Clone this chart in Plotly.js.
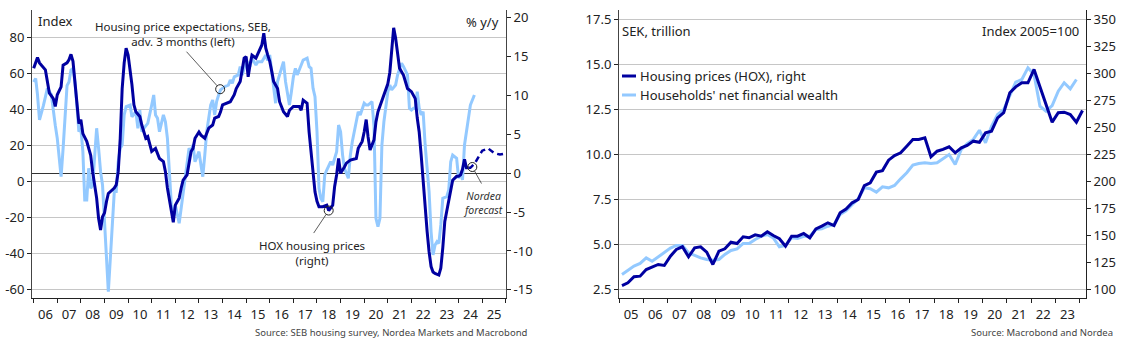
<!DOCTYPE html>
<html><head><meta charset="utf-8">
<script src="https://cdn.plot.ly/plotly-3.0.1.min.js"></script>
<style>html,body{margin:0;padding:0;background:#fff;}#chart{width:1126px;height:349px;}</style>
</head><body><div id="chart"></div>
<script>
// ---------- Left chart: SEB housing price expectations (left, index) ----------
const sebDates = ["2006-01","2006-02","2006-03","2006-04","2006-06","2006-07","2006-08","2006-10","2006-11","2006-12",
"2007-01","2007-02","2007-03","2007-04","2007-05","2007-06","2007-07","2007-08","2007-09","2007-10","2007-11","2007-12",
"2008-01","2008-02","2008-03","2008-04","2008-05","2008-06","2008-07","2008-08","2008-09","2008-10","2008-11","2008-12",
"2009-01","2009-02","2009-03","2009-04","2009-05","2009-06","2009-07","2009-08","2009-09","2009-10","2009-11","2009-12",
"2010-02","2010-03","2010-05","2010-06","2010-07","2010-08","2010-09","2010-11",
"2011-01","2011-02","2011-03","2011-04","2011-05","2011-07","2011-08","2011-09","2011-10","2011-11","2011-12",
"2012-01","2012-03","2012-04","2012-06","2012-07","2012-08","2012-09","2012-10","2012-11",
"2013-01","2013-02","2013-03","2013-04","2013-05","2013-07","2013-08","2013-09","2013-10","2013-11","2013-12",
"2014-02","2014-04","2014-05","2014-06","2014-07","2014-09","2014-10","2014-11","2014-12",
"2015-01","2015-03","2015-04","2015-06","2015-07","2015-09","2015-11","2015-12",
"2016-01","2016-02","2016-03","2016-04","2016-05","2016-07","2016-08","2016-09","2016-11","2016-12",
"2017-01","2017-02","2017-03","2017-04","2017-06","2017-08","2017-09","2017-10","2017-11","2017-12",
"2018-01","2018-02","2018-03","2018-04","2018-05","2018-06","2018-08","2018-09","2018-11","2018-12",
"2019-01","2019-02","2019-03","2019-05","2019-06","2019-07","2019-09","2019-10","2019-11",
"2020-01","2020-02","2020-03","2020-05","2020-06","2020-07","2020-08","2020-09","2020-10","2020-11","2020-12",
"2021-01","2021-02","2021-03","2021-05","2021-06","2021-08","2021-09","2021-11","2021-12",
"2022-01","2022-02","2022-03","2022-04","2022-05","2022-06","2022-07","2022-08","2022-10","2022-11","2022-12",
"2023-01","2023-02","2023-03","2023-04","2023-05","2023-07","2023-08","2023-09","2023-10","2023-12",
"2024-01","2024-02","2024-03","2024-04","2024-05","2024-06","2024-07","2024-09"];
const sebIndex = [55,57,48,34,42,46,51.5,48,38.5,31,
23.7,12.6,2.4,18,37,53,55,61.7,62.6,55,42,27.4,
29.3,16.3,-10.6,-10.6,7.1,-4.1,-2.2,16.3,29.3,18.2,5.2,-2.2,
-20.7,-42.9,-61.5,-42.9,-20.7,-5.9,-5.9,10.7,18.2,20,36.7,41.3,
42.2,35.7,38.5,29.3,39.4,27.4,29.3,32,
42.2,47.8,36.7,34.8,27.4,36.7,32.9,23.7,5.2,-13.3,-20.7,
-13.3,-23.5,-15.2,1.5,10.7,18.2,16.3,20,10.7,
16.3,8.9,2.4,14.4,27.4,42.2,45,36.7,44.1,47.8,50.6,
52.4,53.3,56.1,54.3,57.9,58.9,63.5,58.9,62.6,
67.2,63.5,68.2,64.4,66.3,66.3,70,67,
70,60.7,51.5,43.2,55.2,63.5,66.3,55.2,42.2,49.6,
57.9,62.6,58.9,61.7,67.2,68.2,63.5,62.6,51.5,46.8,
27.4,-4.1,-9.6,-11.5,3.3,6.1,10.7,8.9,16.3,31.1,
27.4,14.4,7.1,1.5,14.4,21.8,32.9,38.5,36.7,
43.2,42.2,42.2,44.1,30,-20.7,-25.4,-20.7,20,32.9,42.2,
49.6,53.3,50.6,53.3,58.9,65.4,63.5,58.9,40.4,
39.4,40.4,40.4,49.6,40.4,36.7,38.5,20,-5.9,-28.2,-41.1,
-35.6,-33.7,-34.6,-24.4,-9.6,-8.7,-5,10.7,14.4,12.6,
1.5,4.3,0.6,20,27.4,36.7,42.2,47.8];

// ---------- Left chart: HOX housing prices, % y/y (right) ----------
const hoxDates = ["2006-01","2006-03","2006-04","2006-07","2006-08","2006-09","2006-11","2006-12",
"2007-01","2007-03","2007-04","2007-06","2007-07","2007-08","2007-09","2007-11","2007-12",
"2008-01","2008-02","2008-04","2008-06","2008-07","2008-09","2008-10","2008-11","2008-12",
"2009-01","2009-02","2009-03","2009-06","2009-07","2009-08","2009-09","2009-10","2009-11","2009-12",
"2010-01","2010-03","2010-04","2010-05","2010-07","2010-08","2010-10","2010-11",
"2011-01","2011-03","2011-05","2011-07","2011-08","2011-09","2011-10","2011-11","2011-12",
"2012-01","2012-03","2012-04","2012-05","2012-07","2012-08","2012-09","2012-10","2012-11",
"2013-01","2013-02","2013-04","2013-06","2013-08","2013-09","2013-11","2013-12",
"2014-01","2014-03","2014-05","2014-07","2014-08","2014-10","2014-11","2014-12",
"2015-01","2015-02","2015-03","2015-04","2015-06","2015-07","2015-08","2015-09","2015-10","2015-11","2015-12",
"2016-01","2016-02","2016-03","2016-05","2016-06","2016-08","2016-10","2016-11",
"2017-01","2017-04","2017-05","2017-06","2017-08","2017-09","2017-10","2017-11","2017-12",
"2018-01","2018-02","2018-04","2018-06","2018-07","2018-09","2018-10","2018-11","2018-12",
"2019-01","2019-03","2019-04","2019-06","2019-09","2019-10","2019-12",
"2020-01","2020-02","2020-03","2020-04","2020-06","2020-07","2020-08","2020-09","2020-11","2020-12",
"2021-01","2021-02","2021-03","2021-04","2021-05","2021-06","2021-07","2021-09","2021-11",
"2022-01","2022-03","2022-04","2022-05","2022-06","2022-07","2022-08","2022-09","2022-10","2022-11","2022-12",
"2023-01","2023-03","2023-04","2023-05","2023-06","2023-07","2023-09","2023-10","2023-12",
"2024-01","2024-02","2024-03","2024-04","2024-05","2024-06"];
const hoxYoY = [13.5,14.9,14.2,13.3,11.8,10.3,9.6,8.6,
10.1,11.1,13.9,14.2,14.6,15.3,14.4,9.6,6.4,
6.9,5.1,4.1,2.3,0.2,-3.2,-5.8,-7.3,-5.6,
-5.1,-3.6,-2.6,-1.9,-1.5,0.2,4.5,10.9,14.2,16.1,
15.2,11.4,8.8,7.9,7.3,6.2,4.5,4.7,
2.8,3.2,1.9,1.5,0.2,-1.9,-3.2,-4.9,-6.3,
-4.1,-3.2,-1.9,-0.9,-0.2,1.1,2.8,3.2,4.5,
5.3,4.9,4.5,5.8,6.2,7.1,7.3,7.9,
8.8,9.0,9.2,10.1,10.9,11.8,13.1,14.8,
15.0,12.4,13.9,15.2,14.8,15.4,15.9,16.5,18.0,16.1,15.2,
14.4,13.1,11.8,10.9,9.2,7.9,7.3,8.1,
8.6,8.6,8.1,9.4,9.0,5.3,2.8,-0.6,-2.4,
-3.6,-4.3,-4.3,-4.1,-4.8,-4.1,-1.7,-0.2,1.9,
0.0,0.8,1.3,1.7,1.9,3.2,4.1,
5.3,6.9,4.7,3.0,4.3,6.6,7.9,8.6,10.1,10.7,
11.5,13.0,15.5,18.7,17.4,15.0,13.5,12.6,10.9,
10.5,9.6,7.1,5.3,2.3,-1.1,-4.9,-7.5,-10.1,-12.0,-12.7,
-12.9,-13.1,-12.2,-9.6,-6.2,-4.9,-2.4,-0.9,-0.4,
-0.4,-0.2,0.5,1.8,0.7,0.7];

// Nordea forecast, % y/y
const fcDates = ["2024-06","2024-07","2024-09","2024-11","2025-01","2025-04","2025-07","2025-10","2025-12"];
const fcYoY = [0.7,0.7,1.2,2.1,2.9,3.2,2.6,2.4,2.5];

// ---------- Right chart (quarterly, 2005Q1 onwards) ----------
const nfwTrillion = [3.31,3.54,3.77,3.92, 4.23,4.04,4.29,4.54, 4.77,4.92,4.92,4.51, 4.36,4.23,4.14,4.10,
4.14,4.42,4.64,4.73, 5.03,5.03,5.25,5.43, 5.53,5.34,4.84,4.92, 5.34,5.31,5.43,5.43,
5.81,5.84,5.99,6.08, 6.64,6.85,7.19,7.51, 8.12,8.07,7.88,8.18, 8.12,8.25,8.62,8.96,
9.38,9.47,9.51,9.47, 9.51,9.73,9.97,9.42, 10.25,10.58,10.81,11.32, 10.62,11.54,12.19,12.47,
13.21,13.99,14.14,14.79, 14.42,12.66,12.38,12.69, 13.49,13.96,13.62,14.14];
const hoxIndex = [103.2,105.7,111.3,111.9, 118,120.5,122.7,121.8, 130.4,136.6,139.1,129.8, 138.1,139.1,134.1,122.7,
135,137.2,143.3,142.1, 148.3,147.4,150.2,148.9, 153,149.5,146.5,139.6, 148.9,148.9,151.4,147.4,
155.7,158.2,161.3,158.8, 170.6,174,179.8,182.9, 195.8,198.3,208.2,209.6, 219.3,223.6,226.1,232.2,
238.4,238.4,240,222.4, 227.6,229.2,231.7,226.1, 230.7,232.9,236.9,235.9, 244.6,246.1,258.5,263.2,
281.7,287.2,290.9,290.9, 303.3,287.2,270.8,254.5, 263.2,263.7,261.6,254.5, 265.3];

// tick values
const leftTicks = [-60,-40,-20,0,20,40,60,80];
const rightTicksL = [-15,-10,-5,0,5,10,15,20];
const sekTicks = [2.5,5,7.5,10,12.5,15,17.5];
const idxTicks = [100,125,150,175,200,225,250,275,300,325,350];

// quarterly dates (mid-quarter) for the right chart
function quarterDates(n){const out=[];const mm=['02','05','08','11'];for(let i=0;i<n;i++){out.push((2005+Math.floor(i/4))+'-'+mm[i%4]+'-15');}return out;}
const qNfw = quarterDates(nfwTrillion.length);
const qHox = quarterDates(hoxIndex.length);

const DARK = '#0000A0', LIGHT = '#93C9FF', GRID = '#c6c6c6', TXT = '#222';
const FONT = '"Noto Sans", "Open Sans", sans-serif';
const W = 1126, H = 349;
const PX = v => v / W, PY = v => 1 - v / H;

const traces = [
  {x: sebDates, y: sebIndex, xaxis:'x', yaxis:'y', type:'scatter', mode:'lines', line:{color:LIGHT, width:3}, name:'Housing price expectations, SEB'},
  {x: hoxDates, y: hoxYoY, xaxis:'x', yaxis:'y2', type:'scatter', mode:'lines', line:{color:DARK, width:3}, name:'HOX housing prices'},
  {x: fcDates, y: fcYoY, xaxis:'x', yaxis:'y2', type:'scatter', mode:'lines', line:{color:DARK, width:2.5, dash:'6px,4px'}, name:'Nordea forecast'},
  {x: qNfw, y: nfwTrillion, xaxis:'x2', yaxis:'y3', type:'scatter', mode:'lines', line:{color:LIGHT, width:3}, name:"Households' net financial wealth"},
  {x: qHox, y: hoxIndex, xaxis:'x2', yaxis:'y4', type:'scatter', mode:'lines', line:{color:DARK, width:3}, name:'Housing prices (HOX), right'}
];

const commonX = {type:'date', dtick:'M12', tickformat:'%y', ticklabelmode:'period', ticks:'outside', ticklen:4,
  tickcolor:TXT, showline:true, linecolor:TXT, linewidth:1, showgrid:false, zeroline:false, tickfont:{size:13, color:TXT}};
const yDom = [1 - 298/H, 1 - 10/H];

const layout = {
  width:W, height:H, margin:{l:0, r:0, t:0, b:0}, paper_bgcolor:'#fff', plot_bgcolor:'rgba(0,0,0,0)',
  showlegend:false, font:{family:FONT, size:13, color:TXT},
  xaxis: Object.assign({}, commonX, {domain:[32/W, 506/W], range:['2005-12-06','2026-01-03'], tick0:'2006-01-01', anchor:'y'}),
  yaxis: {domain:yDom, anchor:'x', range:[-65,95], tickvals:leftTicks, ticktext:leftTicks.map(String), ticks:'outside', ticklen:4,
    tickcolor:TXT, showline:true, linecolor:'#444', linewidth:1, showgrid:true, gridcolor:GRID, gridwidth:1, zeroline:false, tickfont:{size:13, color:TXT}},
  yaxis2: {overlaying:'y', side:'right', anchor:'x', range:[-16.05,21.0], tickvals:rightTicksL, ticktext:rightTicksL.map(String), ticks:'outside', ticklen:4,
    tickcolor:TXT, showline:true, linecolor:'#444', linewidth:1, showgrid:false, zeroline:true, zerolinecolor:'#333', zerolinewidth:1, tickfont:{size:13, color:TXT}},
  xaxis2: Object.assign({}, commonX, {domain:[619/W, 1086/W], range:['2005-01-01','2024-04-08'], tick0:'2005-01-01', anchor:'y3'}),
  yaxis3: {domain:yDom, anchor:'x2', range:[2.0,18.0], tickvals:sekTicks, ticktext:sekTicks.map(v=>v.toFixed(1)), ticks:'outside', ticklen:4,
    tickcolor:TXT, showline:true, linecolor:'#444', linewidth:1, showgrid:true, gridcolor:GRID, gridwidth:1, zeroline:false, tickfont:{size:13, color:TXT}},
  yaxis4: {overlaying:'y3', side:'right', anchor:'x2', range:[91.67,358.33], tickvals:idxTicks, ticktext:idxTicks.map(String), ticks:'outside', ticklen:4,
    tickcolor:TXT, showline:true, linecolor:TXT, linewidth:1, showgrid:false, zeroline:false, tickfont:{size:13, color:TXT}},
  shapes: [
    {type:'circle', xref:'x', yref:'y', xsizemode:'pixel', ysizemode:'pixel', xanchor:'2013-11-25', yanchor:51, x0:-4.5, x1:4.5, y0:-4.5, y1:4.5, line:{color:'#222', width:1}},
    {type:'circle', xref:'x', yref:'y2', xsizemode:'pixel', ysizemode:'pixel', xanchor:'2018-07-01', yanchor:-4.8, x0:-4.5, x1:4.5, y0:-4.5, y1:4.5, line:{color:'#222', width:1}},
    {type:'circle', xref:'x', yref:'y2', xsizemode:'pixel', ysizemode:'pixel', xanchor:'2024-07-31', yanchor:0.8, x0:-4.5, x1:4.5, y0:-4.5, y1:4.5, line:{color:'#222', width:1}},
    // legend keys (right chart)
    {type:'line', xref:'paper', yref:'paper', x0:PX(622), x1:PX(636), y0:PY(76), y1:PY(76), line:{color:DARK, width:3}},
    {type:'line', xref:'paper', yref:'paper', x0:PX(622), x1:PX(636), y0:PY(95), y1:PY(95), line:{color:LIGHT, width:3}}
  ],
  annotations: [
    {xref:'paper', yref:'paper', x:PX(36), y:PY(21), xanchor:'left', yanchor:'middle', text:'Index', showarrow:false, font:{size:13}},
    {xref:'paper', yref:'paper', x:PX(501), y:PY(22), xanchor:'right', yanchor:'middle', text:'% y/y', showarrow:false, font:{size:13}},
    {xref:'paper', yref:'paper', x:PX(183), y:PY(34), xanchor:'center', yanchor:'middle', text:'Housing price expectations, SEB,<br>adv. 3 months (left)', showarrow:false, font:{size:11.5}},
    {xref:'x', yref:'y', x:'2013-11-25', y:51, text:'', showarrow:true, arrowhead:0, arrowwidth:0.8, arrowcolor:'#333', ax:-35, ay:-39, standoff:4.5},
    {xref:'paper', yref:'paper', x:PX(312), y:PY(253), xanchor:'center', yanchor:'middle', text:'HOX housing prices<br>(right)', showarrow:false, font:{size:11.5}},
    {xref:'x', yref:'y2', x:'2018-07-01', y:-4.8, text:'', showarrow:true, arrowhead:0, arrowwidth:0.8, arrowcolor:'#333', ax:-16, ay:24, standoff:4.5},
    {xref:'paper', yref:'paper', x:PX(483), y:PY(203.5), xanchor:'center', yanchor:'middle', text:'<i>Nordea<br>forecast</i>', showarrow:false, font:{size:10.5, color:'#333'}},
    {xref:'x', yref:'y2', x:'2024-07-31', y:0.8, text:'', showarrow:true, arrowhead:0, arrowwidth:0.8, arrowcolor:'#333', ax:10, ay:18, standoff:4.5},
    {xref:'paper', yref:'paper', x:PX(530), y:PY(332), xanchor:'right', yanchor:'middle', text:'Source: SEB housing survey, Nordea Markets and Macrobond', showarrow:false, font:{size:9.5, color:'#444'}},
    {xref:'paper', yref:'paper', x:PX(620), y:PY(31), xanchor:'left', yanchor:'middle', text:'SEK, trillion', showarrow:false, font:{size:13}},
    {xref:'paper', yref:'paper', x:PX(1081), y:PY(31), xanchor:'right', yanchor:'middle', text:'Index 2005=100', showarrow:false, font:{size:13}},
    {xref:'paper', yref:'paper', x:PX(638), y:PY(76), xanchor:'left', yanchor:'middle', text:'Housing prices (HOX), right', showarrow:false, font:{size:13}},
    {xref:'paper', yref:'paper', x:PX(638), y:PY(95), xanchor:'left', yanchor:'middle', text:"Households' net financial wealth", showarrow:false, font:{size:13}},
    {xref:'paper', yref:'paper', x:PX(1115), y:PY(332), xanchor:'right', yanchor:'middle', text:'Source: Macrobond and Nordea', showarrow:false, font:{size:9.5, color:'#444'}}
  ]
};

Plotly.newPlot('chart', traces, layout, {staticPlot:true, displayModeBar:false});
</script>
</body></html>
